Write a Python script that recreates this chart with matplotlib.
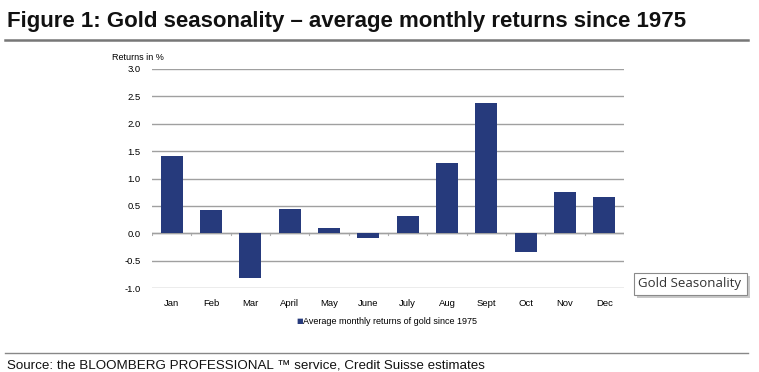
import matplotlib
matplotlib.use("Agg")
import matplotlib.pyplot as plt
from matplotlib.patches import FancyBboxPatch
from matplotlib.lines import Line2D

months = ["Jan", "Feb", "Mar", "April", "May", "June", "July", "Aug", "Sept", "Oct", "Nov", "Dec"]
returns = [1.42, 0.42, -0.82, 0.45, 0.10, -0.08, 0.32, 1.28, 2.37, -0.35, 0.75, 0.67]
yticks = [-1.0, -0.5, 0.0, 0.5, 1.0, 1.5, 2.0, 2.5, 3.0]

font = "Liberation Sans"
bar_color = "#263a7c"
fig = plt.figure(figsize=(7.59, 3.72), dpi=100)
fig.patch.set_facecolor("white")

ax = fig.add_axes([152/759, 1-288/372, (624-152)/759, (288-69)/372])
x = list(range(len(months)))
ax.bar(x, returns, width=0.56, color=bar_color, zorder=3)
ax.set_ylim(-1.0, 3.0)
ax.set_xlim(-0.5, 11.5)
ax.set_yticks(yticks)
ax.set_yticklabels([f"{v:.1f}" for v in yticks], fontsize=6.8, family=font)
ax.set_xticks(x)
ax.set_xticklabels(months, fontsize=6.8, family=font)
ax.tick_params(axis="both", length=0)
ax.tick_params(axis="y", pad=8)
ax.tick_params(axis="x", pad=8)
for s in ax.spines.values():
    s.set_visible(False)
ax.grid(axis="y", color="#a0a0a0", linewidth=1.0, zorder=0)
ax.axhline(0, color="#b0b0b0", linewidth=1.0, zorder=1)
for xi in range(13):
    ax.plot([xi-0.5, xi-0.5], [0, -0.04], color="#b0b0b0", linewidth=0.8, zorder=1)

fig.text(112/759, 1-58/372, "Returns in %", fontsize=6.5, family=font,
         ha="left", va="center")

# legend
fig.text(296/759, 1-321/372, "\u25a0", fontsize=5, color=bar_color, ha="left", va="center")
fig.text(303/759, 1-321/372, "Average monthly returns of gold since 1975", fontsize=6.5,
         family=font, ha="left", va="center")

# title
fig.text(7/759, 1-22/372, "Figure 1: Gold seasonality \u2013 average monthly returns since 1975",
         fontsize=16.0, fontweight="bold", family=font, ha="left", va="center", color="#111111")
fig.add_artist(Line2D([5/759, 748/759], [1-40/372, 1-40/372], color="#777777", linewidth=1.8))

# footer
fig.add_artist(Line2D([5/759, 748/759], [1-353/372, 1-353/372], color="#888888", linewidth=1.0))
fig.text(7/759, 1-365/372, "Source: the BLOOMBERG PROFESSIONAL \u2122 service, Credit Suisse estimates",
         fontsize=9.6, family=font, ha="left", va="center", color="#111111")

# gold seasonality box
shadow = FancyBboxPatch((637/759, 1-298/372), 113/759, 22/372, boxstyle="square,pad=0",
                        transform=fig.transFigure, facecolor="#c8c8c8", edgecolor="none")
box = FancyBboxPatch((634/759, 1-295/372), 113/759, 22/372, boxstyle="square,pad=0",
                     transform=fig.transFigure, facecolor="white", edgecolor="#8a8a8a", linewidth=0.8)
fig.add_artist(shadow)
fig.add_artist(box)
fig.text(690/759, 1-284/372, "Gold Seasonality", fontsize=9.5, family="Open Sans",
         ha="center", va="center", color="#333333")

fig.savefig("out.png", dpi=100, facecolor="white")
